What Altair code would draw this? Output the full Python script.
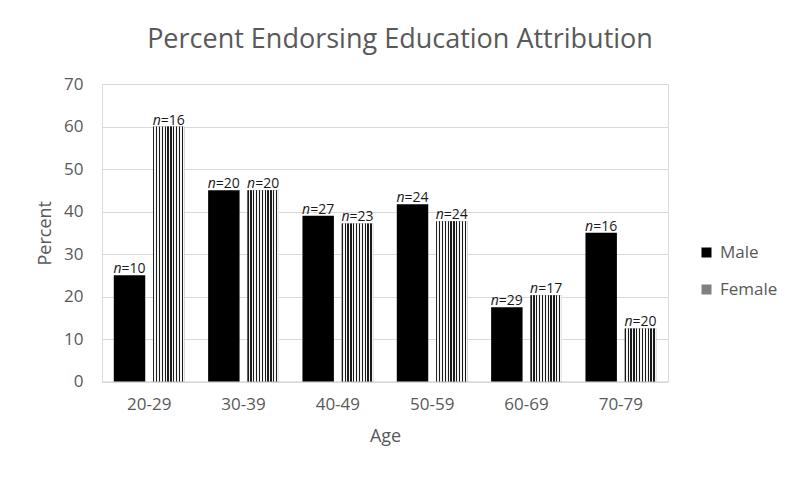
import altair as alt
import pandas as pd

ages = ["20-29", "30-39", "40-49", "50-59", "60-69", "70-79"]
male_pct = [25, 45, 39, 41.7, 17.5, 35]
female_pct = [60, 45, 37.2, 37.7, 20.3, 12.5]
male_n = [10, 20, 27, 24, 29, 16]
female_n = [16, 20, 23, 24, 17, 20]
genders = ["Male", "Female"]
y_ticks = [0, 10, 20, 30, 40, 50, 60, 70]

rows = []
for a, mp, fp, mn, fn in zip(ages, male_pct, female_pct, male_n, female_n):
    rows.append({"Age": a, "Gender": "Male", "Percent": mp, "Label": f"={mn}"})
    rows.append({"Age": a, "Gender": "Female", "Percent": fp, "Label": f"={fn}"})
df = pd.DataFrame(rows)

FONT = "Open Sans"
GRAY = "#595959"

# fine striped gradient to approximate the cross-hatch pattern
stops = []
periods = 11
for i in range(periods):
    a0 = i / periods
    a1 = (i + 0.45) / periods
    a2 = (i + 1) / periods
    stops.append(alt.GradientStop(offset=a0, color="#1a1a1a"))
    stops.append(alt.GradientStop(offset=a1, color="#1a1a1a"))
    stops.append(alt.GradientStop(offset=a1, color="#f4f4f4"))
    stops.append(alt.GradientStop(offset=a2, color="#f4f4f4"))
hatch = alt.LinearGradient(gradient="linear", x1=0, x2=1, y1=0, y2=0, stops=stops)

x_enc = alt.X("Age:N", sort=ages,
              scale=alt.Scale(paddingInner=0.25, paddingOuter=0.125),
              axis=alt.Axis(title="Age", labelAngle=0, labelFontSize=17, labelColor=GRAY,
                            labelFont=FONT, titleFont=FONT, titleFontSize=18,
                            titleColor=GRAY, titleFontWeight="normal", ticks=False,
                            domainColor="#d9d9d9", labelPadding=15, titlePadding=15,
                            grid=False))
xo_enc = alt.XOffset("Gender:N", sort=genders,
                     scale=alt.Scale(domain=genders, paddingInner=0.2, paddingOuter=0))
y_enc = alt.Y("Percent:Q", scale=alt.Scale(domain=[0, 70], nice=False),
              axis=alt.Axis(title="Percent", values=y_ticks, labelFontSize=17,
                            labelColor=GRAY, labelFont=FONT, titleFont=FONT,
                            titleFontSize=18, titleColor=GRAY, titleFontWeight="normal",
                            ticks=False, tickSize=0, domain=False, gridColor="#d9d9d9",
                            labelPadding=19, titlePadding=9))

base = alt.Chart(df).encode(x=x_enc, xOffset=xo_enc, y=y_enc)

bars = base.mark_bar().encode(
    color=alt.Color("Gender:N", sort=genders,
                    scale=alt.Scale(domain=genders, range=["#000000", "#7f7f7f"]),
                    legend=alt.Legend(title=None, orient="none", legendX=596, legendY=160,
                                      direction="vertical", symbolType="square",
                                      symbolSize=100, symbolStrokeWidth=0,
                                      labelFontSize=17, labelColor=GRAY, labelFont=FONT,
                                      rowPadding=19, labelOffset=5, padding=0))
)

female_bars = base.transform_filter(alt.datum.Gender == "Female").mark_bar(fill=hatch)

label_num = base.mark_text(align="left", baseline="alphabetic", dx=-8, dy=-2,
                           fontSize=14, font=FONT, color="#1a1a1a").encode(
    text="Label:N")
label_n = base.mark_text(align="right", baseline="alphabetic", dx=-8, dy=-2,
                         fontSize=14, font=FONT, fontStyle="italic",
                         color="#1a1a1a").encode(text=alt.value("n"))

chart = alt.layer(bars, female_bars, label_num, label_n).properties(
    width=566, height=297.5,
    autosize=alt.AutoSizeParams(type="none"),
    padding={"left": 94, "top": 76, "right": 124, "bottom": 93},
    title=alt.Title("Percent Endorsing Education Attribution", fontSize=27,
                    font=FONT, color=GRAY, fontWeight="normal", anchor="middle",
                    dx=15, offset=21),
).configure_view(stroke=None).configure(background="white")

chart.save("out.html", embed_options={"renderer": "svg", "actions": False})
